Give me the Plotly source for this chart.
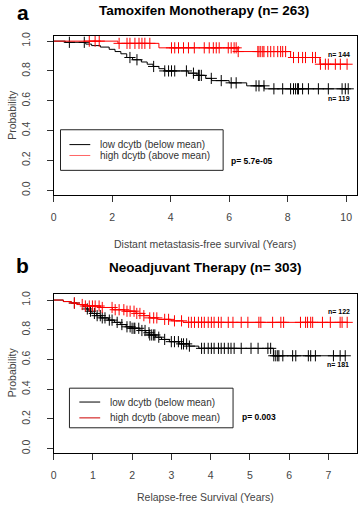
import numpy as np
import plotly.graph_objects as go

# ---------------- Panel a: Tamoxifen Monotherapy ----------------
a_low_t = [0, 0.4, 1.1, 1.3, 1.6, 1.9, 2.1, 2.3, 2.5, 2.7, 3.0, 3.2, 3.4, 3.6, 3.8, 4.6, 4.9, 5.2, 5.4, 6.0, 6.6, 7.2, 10.07]
a_low_s = [1.0, 0.992, 0.98, 0.97, 0.96, 0.945, 0.93, 0.915, 0.89, 0.875, 0.86, 0.845, 0.83, 0.815, 0.80, 0.785, 0.77, 0.75, 0.735, 0.72, 0.70, 0.68, 0.68]
a_low_cens = [0.54, 1.05, 2.61, 2.85, 3.42, 3.8, 3.93, 4.03, 4.14, 4.54, 4.78, 4.95, 4.98, 5.05, 5.39, 5.73,
              6.07, 6.24, 6.92, 7.02, 7.19, 7.53, 7.83, 8.1, 8.2, 8.27, 8.34, 8.37, 8.51, 8.71, 9.05, 9.39,
              9.86, 9.97, 10.07]

a_high_t = [0, 2.2, 3.6, 6.3, 8.1, 9.1, 10.05]
a_high_s = [1.0, 0.985, 0.955, 0.93, 0.89, 0.845, 0.845]
a_high_cens = [1.22, 1.42, 1.56, 2.24, 2.51, 2.61, 2.78, 2.92, 3.02, 3.12, 3.29, 4.03, 4.14, 4.27, 4.44, 4.61,
               4.81, 5.15, 5.32, 5.46, 5.56, 5.66, 5.97, 6.07, 6.17, 6.24, 6.31, 6.98, 7.02, 7.08, 7.15, 7.19,
               7.32, 7.42, 7.53, 7.66, 7.76, 7.83, 7.93, 8.2, 8.37, 8.51, 8.61, 8.85, 8.95, 9.12, 9.29, 9.39,
               9.63, 9.8, 10.03]

# ---------------- Panel b: Neoadjuvant Therapy ----------------
b_low_t = [0, 0.25, 0.45, 0.6, 0.75, 0.82, 0.9, 0.98, 1.1, 1.2, 1.4, 1.55, 1.7, 1.85, 2.0, 2.2, 2.35, 2.45,
           2.6, 2.75, 2.95, 3.2, 3.45, 3.7, 5.6, 7.45]
b_low_s = [1.0, 0.99, 0.98, 0.97, 0.955, 0.94, 0.925, 0.91, 0.895, 0.88, 0.865, 0.85, 0.835, 0.82, 0.81, 0.795,
           0.78, 0.765, 0.75, 0.735, 0.72, 0.705, 0.69, 0.675, 0.625, 0.625]
b_low_cens = [0.53, 0.86, 0.94, 1.04, 1.11, 1.19, 1.24, 1.31, 1.42, 1.49, 1.62, 1.74, 1.87, 1.95, 2.0, 2.05,
              2.07, 2.17, 2.25, 2.33, 2.43, 2.45, 2.5, 2.55, 2.58, 2.68, 2.83, 3.0, 3.08, 3.18, 3.26, 3.31,
              3.39, 3.46, 3.77, 3.84, 3.94, 4.02, 4.09, 4.2, 4.27, 4.35, 4.45, 4.52, 4.6, 4.78, 5.03, 5.21,
              5.46, 5.53, 5.61, 5.66, 5.71, 5.74, 5.84, 6.09, 6.17, 6.49, 6.55, 6.67, 7.13, 7.3, 7.43]

b_high_t = [0, 0.25, 0.45, 0.6, 0.75, 1.2, 1.5, 1.8, 2.1, 2.3, 2.45, 2.65, 3.0, 3.3, 7.5]
b_high_s = [1.0, 0.99, 0.98, 0.97, 0.96, 0.95, 0.935, 0.925, 0.91, 0.895, 0.88, 0.87, 0.86, 0.85, 0.85]
b_high_cens = [0.53, 0.73, 0.81, 0.91, 0.99, 1.06, 1.16, 1.24, 1.49, 1.57, 1.67, 1.79, 1.87, 1.95, 2.05, 2.12,
               2.2, 2.3, 2.45, 2.55, 2.63, 2.83, 2.93, 3.08, 3.26, 3.44, 3.51, 3.59, 3.69, 3.77, 3.84, 3.94,
               4.02, 4.09, 4.2, 4.27, 4.45, 4.57, 4.78, 4.95, 5.23, 5.28, 5.58, 5.79, 5.86, 6.29, 6.42, 6.47,
               6.55, 6.6, 6.85, 7.05, 7.3, 7.35, 7.48]

a_xticks = [0, 2, 4, 6, 8, 10]
b_xticks = [0, 1, 2, 3, 4, 5, 6, 7]
yticks = [0.0, 0.2, 0.4, 0.6, 0.8, 1.0]

names = ["low dcytb (below mean)", "high dcytb (above mean)"]
colors = ["#000000", "#ff0000"]

W, H = 358, 508
def PX(x):
    return x / W
def PY(y):
    return 1 - y / H

FONT = "Arial, Liberation Sans, sans-serif"
NARROW = "Liberation Sans Narrow, Arial Narrow, Liberation Sans, sans-serif"
GREY = "#444444"

def surv_at(times, surv, t):
    idx = np.searchsorted(np.array(times), np.array(t), side="right") - 1
    return np.array(surv)[idx]

fig = go.Figure()

panels = [
    ("x", "y", [(a_low_t, a_low_s, a_low_cens), (a_high_t, a_high_s, a_high_cens)]),
    ("x2", "y2", [(b_low_t, b_low_s, b_low_cens), (b_high_t, b_high_s, b_high_cens)]),
]
for xa, ya, groups in panels:
    for (t, s, c), col, nm in zip(groups, colors, names):
        fig.add_trace(go.Scatter(x=t, y=s, mode="lines", line=dict(color=col, width=1, shape="hv"),
                                 name=nm, showlegend=False, xaxis=xa, yaxis=ya, hoverinfo="skip"))
        fig.add_trace(go.Scatter(x=c, y=surv_at(t, s, c), mode="markers",
                                 marker=dict(symbol="cross-thin", size=8, line=dict(color=col, width=1)),
                                 showlegend=False, xaxis=xa, yaxis=ya, hoverinfo="skip"))

axis_common = dict(showline=True, linecolor="black", linewidth=1, mirror=True, ticks="outside",
                   ticklen=6, tickcolor="#333", showgrid=False, zeroline=False,
                   tickfont=dict(family=FONT, size=10.5, color=GREY))

fig.update_layout(
    width=W, height=H, margin=dict(l=0, r=0, t=0, b=0),
    paper_bgcolor="white", plot_bgcolor="white", showlegend=False,
    xaxis=dict(domain=[PX(51), PX(357)], range=[0, 10.37], tickvals=a_xticks, anchor="y",
               ticklabelstandoff=6, **axis_common),
    yaxis=dict(domain=[PY(193), PY(32)], range=[-0.0332, 1.0365], tickvals=yticks, tickformat=".1f",
               tickangle=-90, anchor="x", ticklabelstandoff=12, **axis_common),
    xaxis2=dict(domain=[PX(51), PX(357)], range=[0, 7.73], tickvals=b_xticks, anchor="y2",
                ticklabelstandoff=6, **axis_common),
    yaxis2=dict(domain=[PY(453.7), PY(292.7)], range=[-0.031, 1.042], tickvals=yticks, tickformat=".1f",
                tickangle=-90, anchor="x2", ticklabelstandoff=12, **axis_common),
)

ann = []
def text(x, y, s, size, color="black", bold=False, xanchor="center", family=FONT, angle=0):
    ann.append(dict(x=PX(x), y=PY(y), xref="paper", yref="paper", text=(f"<b>{s}</b>" if bold else s),
                    showarrow=False, xanchor=xanchor, yanchor="middle", textangle=angle,
                    font=dict(family=family, size=size, color=color)))

# panel letters and titles
text(20, 9, "a", 21, bold=True)
text(203, 7, "Tamoxifen Monotherapy (n= 263)", 13.5, bold=True)
text(20, 264, "b", 21, bold=True)
text(204, 266, "Neoadjuvant Therapy (n= 303)", 13.5, bold=True)
# axis titles
text(204, 242, "Distant metastasis-free survival (Years)", 10.5, color=GREY)
text(204, 498, "Relapse-free Survival (Years)", 10.5, color=GREY)
text(9, 112, "Probability", 10.5, color=GREY, angle=-90)
text(9, 372, "Probability", 10.5, color=GREY, angle=-90)
# n labels and p values
text(339, 51, "n= 144", 7, bold=True, family=NARROW)
text(339, 95, "n= 119", 7, bold=True, family=NARROW)
text(339, 311, "n= 122", 7, bold=True, family=NARROW)
text(338, 364, "n= 181", 7, bold=True, family=NARROW)
text(228, 159, "p= 5.7e-05", 8.5, bold=True, xanchor="left", family=NARROW)
text(239, 417, "p= 0.003", 8.5, bold=True, xanchor="left", family=NARROW)

# legends (manual, R-style)
shapes = []
def legend(x0, y0, x1, y1, lx0, lx1, tx, rows):
    shapes.append(dict(type="rect", xref="paper", yref="paper", x0=PX(x0), x1=PX(x1), y0=PY(y1), y1=PY(y0),
                       line=dict(color="#222", width=1), fillcolor="white"))
    for (ry, nm, col) in rows:
        shapes.append(dict(type="line", xref="paper", yref="paper", x0=PX(lx0), x1=PX(lx1), y0=PY(ry), y1=PY(ry),
                           line=dict(color=col, width=1)))
        text(tx, ry, nm, 10, color="#333", xanchor="left")

legend(58, 127, 222, 168, 67, 88, 96, [(142, names[0], colors[0]), (153, names[1], "#ff6666")])
legend(67, 388, 232, 428, 77, 98, 106, [(402, names[0], colors[0]), (418, names[1], "#cc0000")])

fig.update_layout(annotations=ann, shapes=shapes)
fig.write_html("out.html", config={"displayModeBar": False},
               post_script="document.body.style.margin='0';document.body.style.overflow='hidden';")
